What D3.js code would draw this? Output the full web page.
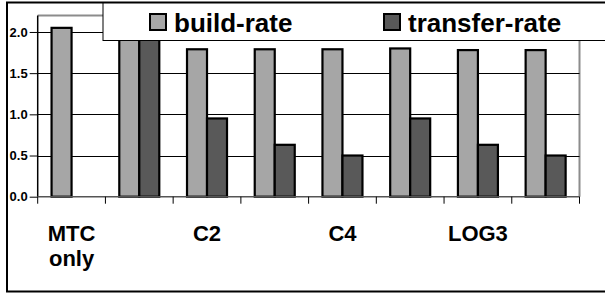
<!DOCTYPE html>
<html><head><meta charset="utf-8">
<script src="https://cdn.jsdelivr.net/npm/d3@7"></script>
<style>html,body{margin:0;padding:0;background:#fff;}svg{display:block;}</style>
</head><body><svg id="c" width="605" height="293"></svg>
<script>
const categories = ["MTC only","C1","C2","C3","C4","LOG2","LOG3","LOG4"];
const seriesNames = ["build-rate","transfer-rate"];
const buildRate = [2.05, 2.00, 1.79, 1.79, 1.79, 1.80, 1.78, 1.78];
const transferRate = [null, 1.98, 0.95, 0.63, 0.50, 0.95, 0.63, 0.50];
const yTicks = [0, 0.5, 1.0, 1.5, 2.0];
const yMax = 2.2;
const colors = ["#a6a6a6", "#595959"];

const svg = d3.select("#c");
const font = "'Liberation Sans', Arial, sans-serif";
const L = 37.7, R = 579.5, T = 15.5, B = 196.7;

// outer chart border
svg.append("rect").attr("x",7).attr("y",2.5).attr("width",640).attr("height",289)
  .attr("fill","#fff").attr("stroke","#000").attr("stroke-width",2);

const x = d3.scaleBand().domain(categories).range([L, R]).paddingInner(0).paddingOuter(0);
const y = d3.scaleLinear().domain([0, yMax]).range([B, T]);
const barW = 20;
const inner = d3.scaleBand().domain(seriesNames).range([0, barW*2]);

// plot area border (top/right gray)
svg.append("path").attr("d",`M${L},${T}H${R}V${B}`).attr("fill","none")
  .attr("stroke","#8c8c8c").attr("stroke-width",2);

// gridlines
svg.append("g").selectAll("line").data(yTicks.filter(d=>d>0)).join("line")
  .attr("x1",L).attr("x2",R).attr("y1",d=>Math.round(y(d))+0.5).attr("y2",d=>Math.round(y(d))+0.5)
  .attr("stroke","#000").attr("stroke-width",1);

// bars
const off = (x.bandwidth() - barW*2)/2;
const series = [buildRate, transferRate];
series.forEach((vals, si) => {
  svg.append("g").selectAll("rect").data(categories.map((c,i)=>({c, v: vals[i]})).filter(d=>d.v!=null)).join("rect")
    .attr("x", d => x(d.c) + off + inner(seriesNames[si]))
    .attr("width", inner.bandwidth())
    .attr("y", d => y(d.v))
    .attr("height", d => B - y(d.v))
    .attr("fill", colors[si]).attr("stroke","#000").attr("stroke-width",2.2);
});

// y axis
const yAxis = d3.axisLeft(y).tickValues(yTicks).tickFormat(d3.format(".1f")).tickSize(8).tickPadding(2);
const gy = svg.append("g").attr("transform",`translate(${L},0)`).call(yAxis);
gy.select(".domain").attr("stroke","#000").attr("stroke-width",1.5).attr("d",`M0,${B}V${T}`);
gy.selectAll(".tick line").attr("stroke","#000");
gy.selectAll(".tick text").attr("font-family",font).attr("font-weight","bold").attr("font-size",13).attr("fill","#000");

// x axis
const gx = svg.append("g").attr("transform",`translate(0,${B})`);
gx.append("line").attr("x1",L).attr("x2",R).attr("y1",0).attr("y2",0).attr("stroke","#555").attr("stroke-width",1.5);
const bounds = categories.map(c=>x(c)).concat([R]);
gx.selectAll("line.t").data(bounds).join("line").attr("class","t")
  .attr("x1",d=>d).attr("x2",d=>d).attr("y1",0).attr("y2",7).attr("stroke","#000").attr("stroke-width",1);

// category labels (every other shown)
const lab = svg.append("g");
categories.forEach((c,i) => {
  if (i % 2 !== 0) return;
  const lines = c.split(" ");
  const cx = x(c) + x.bandwidth()/2;
  const t = lab.append("text").attr("x", cx).attr("y", 241)
    .attr("text-anchor","middle").attr("font-family",font).attr("font-weight","bold").attr("font-size",22).attr("fill","#000");
  lines.forEach((ln, k) => t.append("tspan").attr("x", cx).attr("dy", k===0?0:25).text(ln));
});

// legend
const lg = svg.append("g");
lg.append("rect").attr("x",103).attr("y",3).attr("width",560).attr("height",37.5)
  .attr("fill","#fff").attr("stroke","#000").attr("stroke-width",1);
const legX = [150, 384];
seriesNames.forEach((s,i) => {
  lg.append("rect").attr("x",legX[i]).attr("y",14).attr("width",16).attr("height",16)
    .attr("fill",colors[i]).attr("stroke","#000").attr("stroke-width",2);
  lg.append("text").attr("x",legX[i]+24).attr("y",31.5).attr("font-family",font).attr("font-weight","bold")
    .attr("font-size",26).attr("fill","#000").text(s);
});
</script></body></html>
